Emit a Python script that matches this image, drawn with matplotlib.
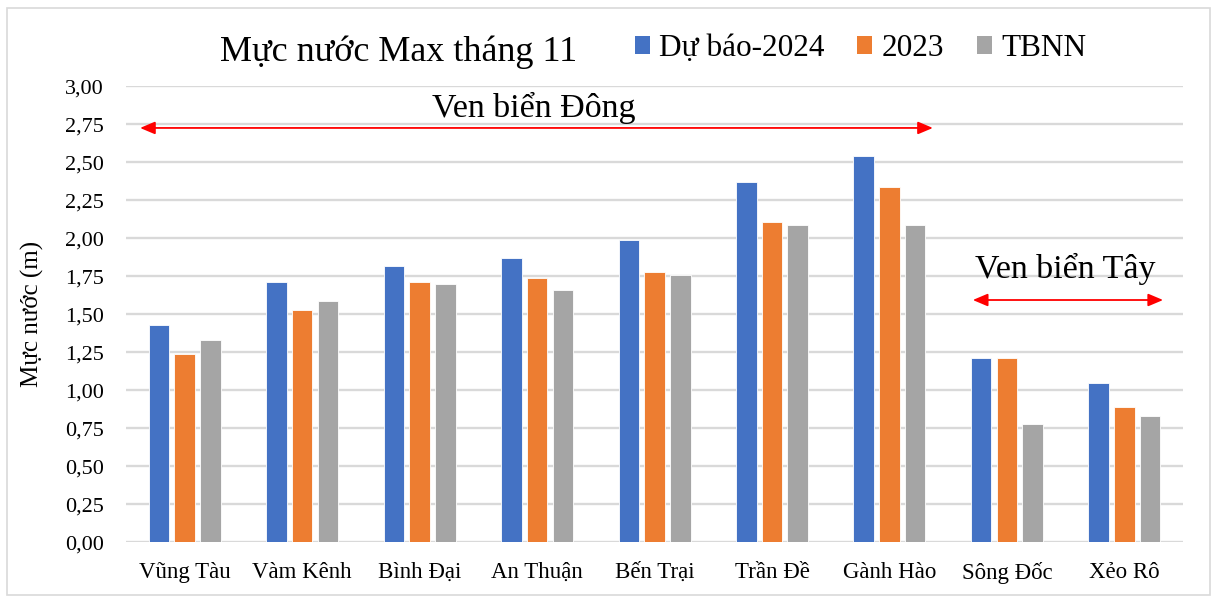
import numpy as np
import matplotlib
matplotlib.use('Agg')
import matplotlib.pyplot as plt
from matplotlib.patches import Patch, Rectangle
from matplotlib.ticker import FuncFormatter

plt.rcParams['font.family'] = ['Liberation Serif', 'DejaVu Serif']

stations = ['Vũng Tàu', 'Vàm Kênh', 'Bình Đại', 'An Thuận', 'Bến Trại',
            'Trần Đề', 'Gành Hào', 'Sông Đốc', 'Xẻo Rô']
forecast_2024 = [1.43, 1.71, 1.82, 1.87, 1.99, 2.37, 2.54, 1.21, 1.05]
year_2023 = [1.24, 1.53, 1.71, 1.74, 1.78, 2.11, 2.34, 1.21, 0.89]
tbnn = [1.33, 1.59, 1.70, 1.66, 1.76, 2.09, 2.09, 0.78, 0.83]
series_names = ['Dự báo-2024', '2023', 'TBNN']
colors = ['#4472C4', '#ED7D31', '#A5A5A5']
yticks = [0, 0.25, 0.5, 0.75, 1.0, 1.25, 1.5, 1.75, 2.0, 2.25, 2.5, 2.75, 3.0]

fig = plt.figure(figsize=(12.16, 6.01), dpi=100)
ax = fig.add_axes([0.1036, 0.0977, 0.8693, 0.7587])

x = np.arange(len(stations))
w = 0.175
step = 0.219
for i, (vals, c) in enumerate(zip([forecast_2024, year_2023, tbnn], colors)):
    ax.bar(x + (i - 1) * step, vals, width=w, color=c, edgecolor='white',
           linewidth=0.6, zorder=3)

ax.set_xlim(-0.5, len(stations) - 0.5)
ax.set_ylim(0, 3.0)
ax.set_yticks(yticks)
ax.yaxis.set_major_formatter(FuncFormatter(lambda v, p: f'{v:.2f}'.replace('.', ',')))
ax.set_xticks(x)
ax.set_xticklabels(stations)
ax.tick_params(axis='both', length=0)
ax.tick_params(axis='y', pad=16, labelsize=16)
ax.tick_params(axis='x', pad=14, labelsize=16.5)
ax.grid(axis='y', color='#d9d9d9', linewidth=1.7, zorder=0)
for s in ax.spines.values():
    s.set_visible(False)
ax.set_ylabel('Mực nước (m)', fontsize=18, labelpad=15)

# region arrows and labels
arrow_kw = dict(arrowstyle='<|-|>,head_length=0.9,head_width=0.38',
                color='red', lw=1.3, shrinkA=0, shrinkB=0)
ax.annotate('', xy=(-0.38, 2.726), xytext=(6.37, 2.726), arrowprops=arrow_kw)
ax.annotate('', xy=(6.71, 1.594), xytext=(8.33, 1.594), arrowprops=arrow_kw)
ax.text(2.97, 2.86, 'Ven biển Đông', fontsize=24.5, ha='center', va='center')
ax.text(7.5, 1.80, 'Ven biển Tây', fontsize=24.5, ha='center', va='center')

fig.text(0.328, 0.913, 'Mực nước Max tháng 11', fontsize=26,
         ha='center', va='center')
handles = [Patch(facecolor=c, edgecolor='none') for c in colors]
fig.legend(handles, series_names, loc='center left',
           bbox_to_anchor=(0.509, 0.919), ncol=3, frameon=False,
           fontsize=22.5, handlelength=0.48, handleheight=0.48,
           handletextpad=0.3, columnspacing=1.05, borderpad=0)

fig.patches.append(Rectangle((0.006, 0.01), 0.989, 0.976, transform=fig.transFigure,
                             fill=False, edgecolor='#d9d9d9', linewidth=1.2))

plt.savefig('out.png', dpi=100)
